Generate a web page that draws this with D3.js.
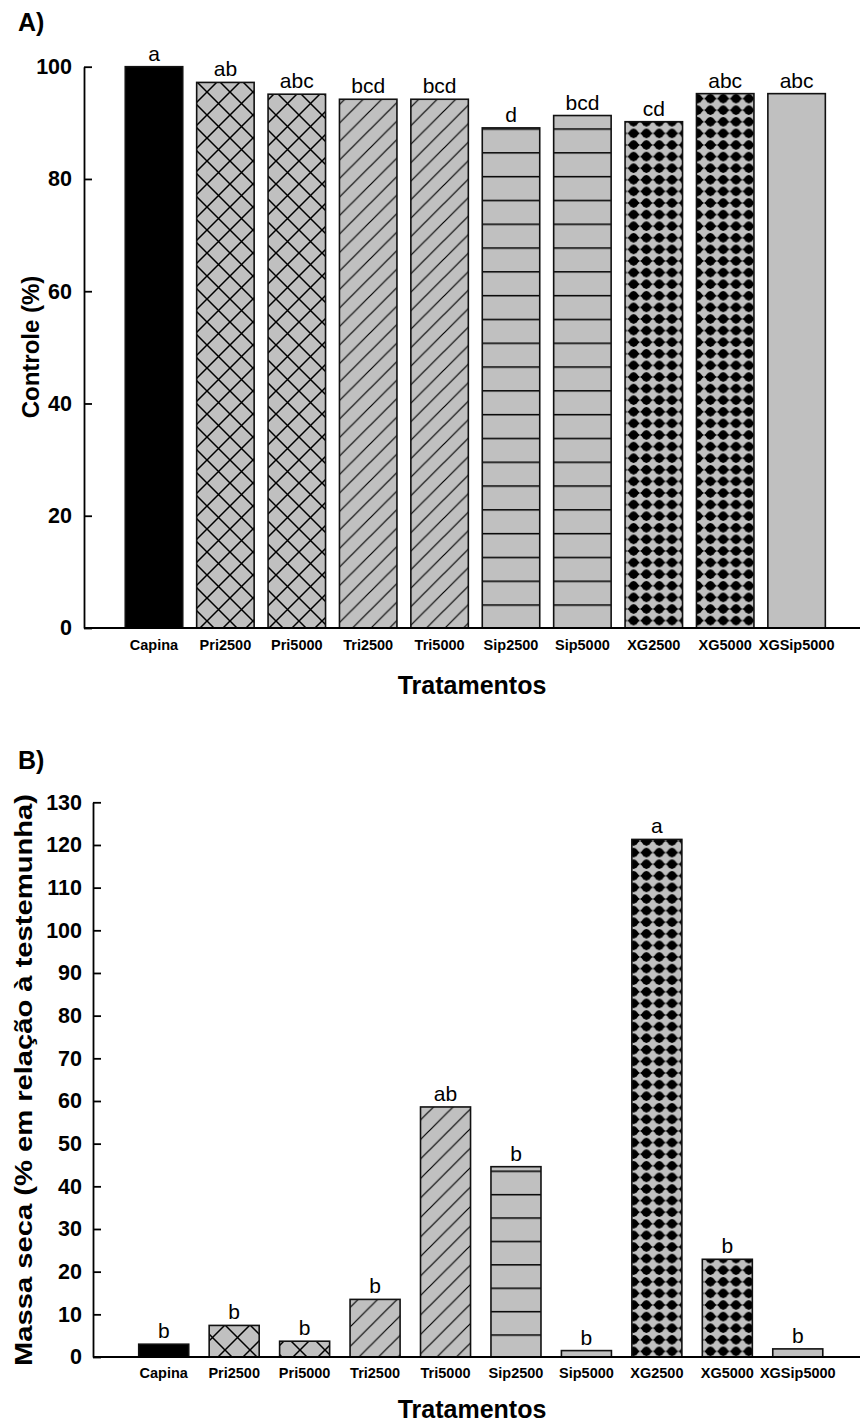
<!DOCTYPE html>
<html lang="pt">
<head>
<meta charset="utf-8">
<title>Controle e massa seca</title>
<script src="https://cdn.jsdelivr.net/npm/d3@7"></script>
<style>
  body { margin: 0; background: #fff; }
  text { font-family: Arial, "Liberation Sans", sans-serif; }
</style>
</head>
<body>
<script>
var categories = ["Capina", "Pri2500", "Pri5000", "Tri2500", "Tri5000",
                  "Sip2500", "Sip5000", "XG2500", "XG5000", "XGSip5000"];
// padrão de preenchimento de cada tratamento
var fills = ["solid", "cross", "cross", "diag", "diag",
             "hline", "hline", "dots", "dots", "gray"];

var controle = [100, 97.2, 95.1, 94.2, 94.2, 89.1, 91.3, 90.2, 95.2, 95.2];
var letrasA = ["a", "ab", "abc", "bcd", "bcd", "d", "bcd", "cd", "abc", "abc"];
var ticksA = [0, 20, 40, 60, 80, 100];

var massa = [3.0, 7.4, 3.7, 13.5, 58.6, 44.6, 1.5, 121.3, 22.9, 1.9];
var letrasB = ["b", "b", "b", "b", "ab", "b", "b", "a", "b", "b"];
var ticksB = [0, 10, 20, 30, 40, 50, 60, 70, 80, 90, 100, 110, 120, 130];

var W = 860, H = 1423;
var svg = d3.select("body").append("svg")
    .attr("width", W).attr("height", H);
var defs = svg.append("defs");

// padrões (estilo SigmaPlot)
function makePatterns(id, cross, diag, hline, hy) {
    var p = defs.append("pattern").attr("id", "cross" + id)
        .attr("patternUnits", "userSpaceOnUse").attr("width", cross).attr("height", cross);
    p.append("rect").attr("width", cross).attr("height", cross).attr("fill", "#c0c0c0");
    p.append("path").attr("d", "M0,0L" + cross + "," + cross + "M0," + cross + "L" + cross + ",0")
        .attr("stroke", "#000").attr("stroke-width", 1.5);

    p = defs.append("pattern").attr("id", "diag" + id)
        .attr("patternUnits", "userSpaceOnUse").attr("width", diag).attr("height", diag);
    p.append("rect").attr("width", diag).attr("height", diag).attr("fill", "#c0c0c0");
    p.append("path").attr("d", "M0," + diag + "L" + diag + ",0M-2,2L2,-2M" + (diag - 2) + "," + (diag + 2) + "L" + (diag + 2) + "," + (diag - 2))
        .attr("stroke", "#000").attr("stroke-width", 1.2);

    p = defs.append("pattern").attr("id", "hline" + id)
        .attr("patternUnits", "userSpaceOnUse").attr("width", 20).attr("height", hline)
        .attr("y", hy);
    p.append("rect").attr("width", 20).attr("height", hline).attr("fill", "#c0c0c0");
    p.append("line").attr("x1", 0).attr("x2", 20).attr("y1", 0.75).attr("y2", 0.75)
        .attr("stroke", "#000").attr("stroke-width", 1.5);

    p = defs.append("pattern").attr("id", "dots" + id)
        .attr("patternUnits", "userSpaceOnUse").attr("width", 12.8).attr("height", 11.6);
    p.append("rect").attr("width", 12.8).attr("height", 11.6).attr("fill", "#c0c0c0");
    p.append("circle").attr("cx", 6.4).attr("cy", 5.8).attr("r", 4.6).attr("fill", "#000");
    p.append("path").attr("d", "M0,5.8L6.4,1L12.8,5.8L6.4,10.6Z").attr("fill", "#000");
}
makePatterns("A", 23, 18.5, 23.8, 128.3);
makePatterns("B", 25, 19.5, 23.4, 1334.3);

function fillFor(kind, id) {
    if (kind === "solid") return "#000";
    if (kind === "gray") return "#c0c0c0";
    return "url(#" + kind + id + ")";
}

function panel(cfg) {
    var g = svg.append("g");
    var x = d3.scaleBand().domain(categories)
        .range(cfg.xr).paddingInner(cfg.pad).paddingOuter(cfg.pad / 2);
    var y = d3.scaleLinear().domain([0, cfg.max]).range([cfg.y0, cfg.y1]);

    g.selectAll("rect.bar")
        .data(cfg.values)
        .enter()
        .append("rect")
        .attr("class", "bar")
        .attr("x", function (d, i) { return x(categories[i]); })
        .attr("y", function (d) { return y(d); })
        .attr("width", x.bandwidth())
        .attr("height", function (d) { return y(0) - y(d); })
        .attr("fill", function (d, i) { return fillFor(fills[i], cfg.id); })
        .attr("stroke", "#111")
        .attr("stroke-width", 1.6);

    // letras de significância
    g.selectAll("text.let")
        .data(cfg.values)
        .enter()
        .append("text")
        .attr("class", "let")
        .attr("x", function (d, i) { return x(categories[i]) + x.bandwidth() / 2; })
        .attr("y", function (d) { return y(d) - 6; })
        .attr("text-anchor", "middle")
        .attr("font-size", "21px")
        .text(function (d, i) { return cfg.letters[i]; });

    // eixo y (marcas para dentro)
    var ay = g.append("g")
        .attr("transform", "translate(" + cfg.ax + ",0)")
        .call(d3.axisLeft(y).tickValues(cfg.ticks).tickSizeInner(-8).tickSizeOuter(0).tickPadding(cfg.tp));
    ay.select(".domain").attr("stroke", "#000").attr("stroke-width", 1.8);
    ay.selectAll(".tick line").attr("stroke-width", 1.8);
    ay.selectAll("text").attr("font-size", "21.5px").attr("font-weight", "bold")
        .attr("font-family", "Arial, 'Liberation Sans', sans-serif").attr("fill", "#000");

    // eixo x
    var ax = g.append("g")
        .attr("transform", "translate(0," + cfg.y0 + ")")
        .call(d3.axisBottom(x).tickSize(0).tickPadding(cfg.xp));
    ax.select(".domain").attr("d", "M" + cfg.ax + ",0H" + W).attr("stroke", "#000").attr("stroke-width", 2.2);
    ax.selectAll("text").attr("font-size", "14.5px").attr("font-weight", "bold")
        .attr("font-family", "Arial, 'Liberation Sans', sans-serif").attr("fill", "#000");

    g.append("text")
        .attr("x", 472).attr("y", cfg.titleY)
        .attr("text-anchor", "middle")
        .attr("font-size", "25px").attr("font-weight", "bold")
        .text("Tratamentos");

    var yt = g.append("text")
        .attr("transform", "translate(" + cfg.ytX + "," + cfg.ytY + ") rotate(-90)")
        .attr("text-anchor", "middle")
        .attr("font-size", "24px").attr("font-weight", "bold")
        .text(cfg.ytitle);
    if (cfg.ytLen) yt.attr("textLength", cfg.ytLen).attr("lengthAdjust", "spacingAndGlyphs");

    g.append("text")
        .attr("x", 18).attr("y", cfg.labY)
        .attr("font-size", "25px").attr("font-weight", "bold")
        .text(cfg.label);
}

panel({
    id: "A", values: controle, letters: letrasA, ticks: ticksA, max: 100,
    xr: [118.3, 832.3], pad: 0.195, y0: 628, y1: 66.7, ax: 84, tp: 12, xp: 12,
    titleY: 694, ytitle: "Controle (%)", ytX: 39, ytY: 347,
    label: "A)", labY: 31
});

panel({
    id: "B", values: massa, letters: letrasB, ticks: ticksB, max: 130,
    xr: [128.5, 833], pad: 0.29, y0: 1357, y1: 802.3, ax: 93, tp: 11, xp: 11,
    titleY: 1418, ytitle: "Massa seca (% em relação à testemunha)", ytX: 32, ytY: 1080, ytLen: 572,
    label: "B)", labY: 769
});
</script>
</body>
</html>
